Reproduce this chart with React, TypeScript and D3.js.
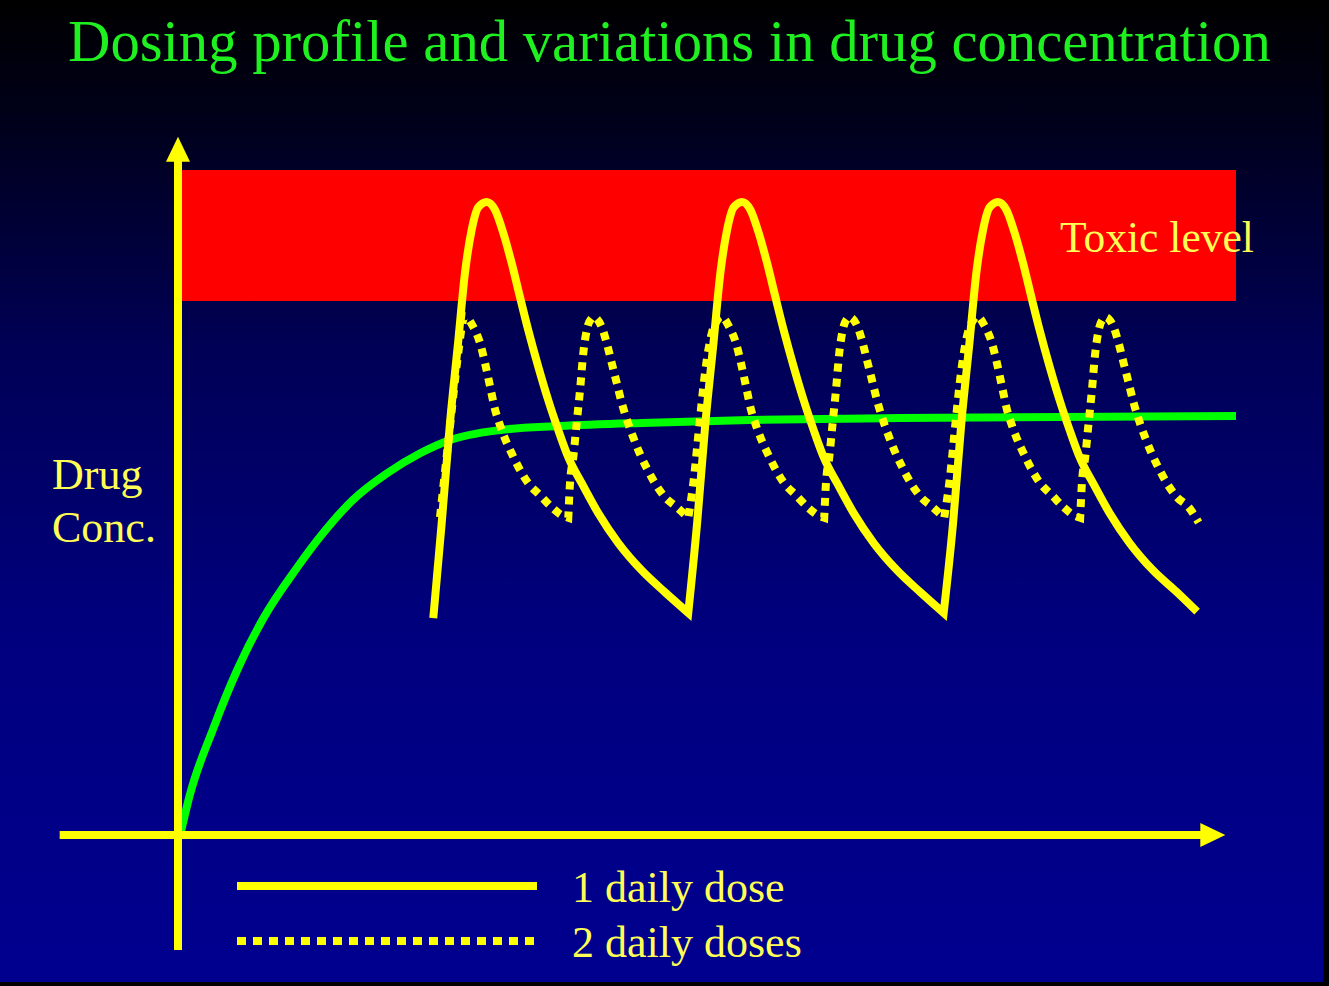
import * as d3 from "d3";

// time in hours (x), concentration in arbitrary units (y)
const timeExtent: [number, number] = [0, 99.3];
const concExtent: [number, number] = [0, 100];
const toxicRange: [number, number] = [80.3, 100];
const xAxisExtent: [number, number] = [-11, 98.3];
const yAxisExtent: [number, number] = [-17.3, 105];

type Pt = [number, number];

const steadyLevel: Pt[] = [
  [0.3, 0], [1.2, 6.0], [3.4, 16.0], [5.7, 25.0], [8.1, 32.6], [11.3, 40.3],
  [13.7, 45.4], [16.5, 50.4], [19.7, 54.4], [22.8, 57.4], [25.6, 59.4],
  [30.3, 60.9], [35.9, 61.5], [44.4, 62.0], [53.7, 62.4], [67.8, 62.7], [99.3, 63.0],
];

// one daily dose: trough to trough
const onceDaily: Pt[][] = [
  [[24.03, 32.6], [24.82, 46.9], [25.6, 62.0], [26.38, 74.4], [27.0, 84.5], [27.63, 91.0],
   [28.25, 94.4], [29.04, 95.2], [29.82, 94.0], [30.6, 90.5], [31.38, 86.0], [32.16, 80.9],
   [32.94, 75.9], [33.88, 70.4], [34.81, 65.4], [35.75, 60.9], [36.69, 56.8], [37.95, 52.9],
   [39.5, 48.4], [41.38, 43.9], [43.57, 39.8], [45.76, 36.5], [47.94, 33.4]],
  [[47.94, 33.4], [48.77, 46.9], [49.55, 62.0], [50.33, 74.4], [50.95, 84.5], [51.58, 91.0],
   [52.2, 94.4], [52.99, 95.2], [53.77, 94.0], [54.55, 90.5], [55.33, 86.0], [56.11, 80.9],
   [56.89, 75.9], [57.83, 70.4], [58.76, 65.4], [59.7, 60.9], [60.64, 56.8], [61.9, 52.9],
   [63.45, 48.4], [65.33, 43.9], [67.52, 39.8], [69.71, 36.5], [71.89, 33.4]],
  [[71.89, 33.4], [72.77, 46.9], [73.55, 62.0], [74.33, 74.4], [74.95, 84.5], [75.58, 91.0],
   [76.2, 94.4], [76.99, 95.2], [77.77, 94.0], [78.55, 90.5], [79.33, 86.0], [80.11, 80.9],
   [80.89, 75.9], [81.83, 70.4], [82.76, 65.4], [83.7, 60.9], [84.64, 56.8], [85.9, 52.9],
   [87.45, 48.4], [89.33, 43.9], [91.52, 39.8], [93.71, 36.6], [95.65, 33.6]],
];

// two daily doses
const twiceDaily: Pt[][] = [
  [[24.66, 47.8], [25.5, 60.0], [26.35, 72.2], [26.82, 77.4], [27.0, 78.0], [27.78, 76.4],
   [28.41, 74.0], [28.88, 71.0], [29.35, 67.5], [29.82, 64.0], [30.29, 61.6], [30.76, 59.6],
   [31.38, 57.4], [32.16, 54.9], [32.94, 52.9], [34.04, 51.1], [35.13, 49.3], [36.07, 48.1],
   [36.69, 47.7]],
  [[36.69, 47.7], [36.85, 52.9], [37.16, 56.8], [37.48, 62.0], [37.79, 66.9], [38.1, 72.5],
   [38.42, 75.9], [38.88, 77.7], [39.03, 77.9], [39.82, 76.4], [40.29, 74.0], [40.76, 71.0],
   [41.23, 68.0], [41.7, 65.0], [42.32, 61.8], [42.78, 59.8], [43.41, 57.3], [44.04, 55.2],
   [44.82, 52.9], [45.76, 50.8], [46.86, 49.3], [47.94, 47.7]],
  [[47.94, 47.7], [48.45, 53.4], [49.0, 62.0], [49.55, 70.0], [50.15, 75.5], [50.65, 77.4],
   [51.0, 78.0], [51.78, 76.4], [52.41, 74.0], [52.88, 71.0], [53.35, 67.5], [53.82, 64.0],
   [54.29, 61.6], [54.76, 59.6], [55.38, 57.4], [56.16, 54.9], [56.94, 52.9], [58.04, 51.1],
   [59.13, 49.3], [60.07, 48.1], [60.69, 47.7]],
  [[60.69, 47.7], [60.85, 52.9], [61.16, 56.8], [61.48, 62.0], [61.79, 66.9], [62.1, 72.5],
   [62.42, 75.9], [62.88, 77.7], [63.03, 77.9], [63.82, 76.4], [64.29, 74.0], [64.76, 71.0],
   [65.23, 68.0], [65.7, 65.0], [66.32, 61.8], [66.78, 59.8], [67.41, 57.3], [68.04, 55.2],
   [68.82, 52.9], [69.76, 50.8], [70.86, 49.3], [71.94, 47.7]],
  [[71.94, 47.7], [72.45, 53.4], [73.0, 62.0], [73.55, 70.0], [74.15, 75.5], [74.65, 77.4],
   [75.0, 78.0], [75.78, 76.4], [76.41, 74.0], [76.88, 71.0], [77.35, 67.5], [77.82, 64.0],
   [78.29, 61.6], [78.76, 59.6], [79.38, 57.4], [80.16, 54.9], [80.94, 52.9], [82.04, 51.1],
   [83.13, 49.3], [84.07, 48.1], [84.69, 47.7]],
  [[84.69, 47.7], [84.85, 52.9], [85.16, 56.8], [85.48, 62.0], [85.79, 66.9], [86.1, 72.5],
   [86.42, 75.9], [86.88, 77.7], [87.03, 77.9], [87.82, 76.4], [88.29, 74.0], [88.76, 71.0],
   [89.23, 68.0], [89.7, 65.0], [90.32, 61.8], [90.78, 59.8], [91.41, 57.3], [92.04, 55.2],
   [92.82, 52.9], [93.76, 50.8], [94.86, 49.3], [95.8, 47.0]],
];

const legendLabels = ["1 daily dose", "2 daily doses"];

const W = 1329;
const H = 986;
const serif = "'Liberation Serif', 'Times New Roman', serif";
const yellow = "#ffff00";
const textYellow = "#ffff55";
const green = "#00ff00";

const x = d3.scaleLinear().domain(timeExtent).range([177, 1236]);
const y = d3.scaleLinear().domain(concExtent).range([835, 170]);

const line = d3
  .line<Pt>()
  .x((d) => x(d[0]))
  .y((d) => y(d[1]))
  .curve(d3.curveMonotoneX);

// join trough-to-trough pieces into one path so the troughs stay sharp
const joined = (segs: Pt[][]) =>
  segs
    .map((s, i) => {
      const d = line(s) ?? "";
      return i === 0 ? d : d.replace(/^M[^A-Za-z]*/, "");
    })
    .join("");

const App = () => {
  const x0 = x(0) + 1;
  const y0 = y(0);
  const yTop = y(yAxisExtent[1]);
  const xTip = x(xAxisExtent[1]);
  const head = 25;

  return (
    <svg
      width={W}
      height={H}
      style={{ position: "fixed", left: 0, top: 0, display: "block" }}
    >
      <defs>
        <linearGradient id="bg" x1="0" y1="0" x2="0" y2="1">
          <stop offset="0%" stopColor="#000000" />
          <stop offset="12%" stopColor="#00001a" />
          <stop offset="35%" stopColor="#000055" />
          <stop offset="65%" stopColor="#00007f" />
          <stop offset="100%" stopColor="#00008f" />
        </linearGradient>
      </defs>
      <rect width={W} height={H} fill="#000" />
      <rect width={1323} height={982} fill="url(#bg)" />

      <text x={68} y={61} fontFamily={serif} fontSize={58.7} fill="#1ff01f">
        Dosing profile and variations in drug concentration
      </text>

      <rect
        x={x(timeExtent[0])}
        y={y(toxicRange[1])}
        width={x(timeExtent[1]) - x(timeExtent[0])}
        height={y(toxicRange[0]) - y(toxicRange[1])}
        fill="#ff0000"
      />
      <text x={1060} y={252} fontFamily={serif} fontSize={43.5} fill={textYellow}>
        Toxic level
      </text>

      <path d={line(steadyLevel) ?? ""} fill="none" stroke={green} strokeWidth={8} />
      <path
        d={joined(onceDaily)}
        fill="none"
        stroke={yellow}
        strokeWidth={8}
        strokeLinejoin="miter"
      />
      <path
        d={joined(twiceDaily)}
        fill="none"
        stroke={yellow}
        strokeWidth={8}
        strokeDasharray="8,7"
      />

      {/* axes */}
      <line x1={x0} x2={x0} y1={y(yAxisExtent[0])} y2={yTop + head - 2} stroke={yellow} strokeWidth={8} />
      <path d={`M${x0},${yTop}L${x0 - 12},${yTop + head}L${x0 + 12},${yTop + head}Z`} fill={yellow} />
      <line x1={x(xAxisExtent[0])} x2={xTip - head + 2} y1={y0} y2={y0} stroke={yellow} strokeWidth={8} />
      <path d={`M${xTip},${y0}L${xTip - head},${y0 - 12}L${xTip - head},${y0 + 12}Z`} fill={yellow} />

      <text fontFamily={serif} fontSize={44} fill={textYellow}>
        <tspan x={52} y={489}>Drug</tspan>
        <tspan x={52} y={542}>Conc.</tspan>
      </text>

      {/* legend */}
      <line x1={237} x2={537} y1={886} y2={886} stroke={yellow} strokeWidth={8} />
      <line x1={237} x2={537} y1={941} y2={941} stroke={yellow} strokeWidth={8} strokeDasharray="9,7" />
      {legendLabels.map((l, i) => (
        <text key={l} x={572} y={902 + i * 55} fontFamily={serif} fontSize={44} fill={textYellow}>
          {l}
        </text>
      ))}
    </svg>
  );
};

export default App;
